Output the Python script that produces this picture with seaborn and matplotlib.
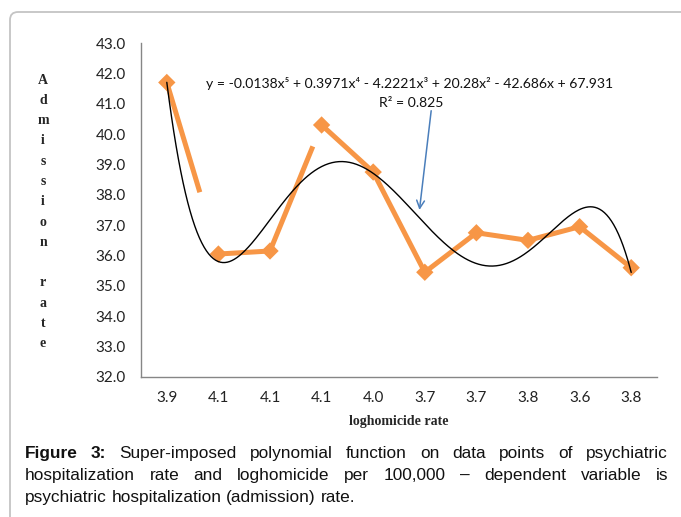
import numpy as np
import pandas as pd
import seaborn as sns
import matplotlib.pyplot as plt
from matplotlib.patches import FancyBboxPatch
from matplotlib.transforms import IdentityTransform

# ---- data ----
x_labels = ["3.9", "4.1", "4.1", "4.1", "4.0", "3.7", "3.7", "3.8", "3.6", "3.8"]
admission = [41.7, 36.05, 36.15, 40.3, 38.75, 35.45, 36.75, 36.5, 36.95, 35.6]
# part of each connecting segment that is actually drawn in the source picture
seg_drawn = [0.64, 1, 0.83, 1, 1, 1, 1, 1, 1]
y_ticks = [32, 33, 34, 35, 36, 37, 38, 39, 40, 41, 42, 43]

eq_text = "y = -0.0138x⁵ + 0.3971x⁴ - 4.2221x³ + 20.28x² - 42.686x + 67.931"
r2_text = "R² = 0.825"
ylabel_text = "Admission rate"
xlabel_text = "loghomicide rate"
caption_lines = [
    "Figure 3: Super-imposed polynomial function on data points of psychiatric",
    "hospitalization rate and loghomicide per 100,000 – dependent variable is",
    "psychiatric hospitalization (admission) rate.",
]

orange = "#F79646"
axis_grey = "#868686"

sns.set_theme(style="white")
plt.rcParams['font.family'] = ['Lato', 'DejaVu Sans']

W, H = 681, 517
fig = plt.figure(figsize=(W / 100, H / 100), dpi=100)
ax = fig.add_axes([141 / W, 1 - 377 / H, (657 - 141) / W, (377 - 43) / H])

pos = np.arange(1, len(admission) + 1)

# orange data line (drawn segment by segment, some are cut short like the source)
rows = []
for i, f in enumerate(seg_drawn):
    x0, x1 = pos[i], pos[i + 1]
    y0, y1 = admission[i], admission[i + 1]
    rows.append((i, x0, y0))
    rows.append((i, x0 + f * (x1 - x0), y0 + f * (y1 - y0)))
seg_df = pd.DataFrame(rows, columns=["seg", "x", "y"])
sns.lineplot(data=seg_df, x="x", y="y", units="seg", estimator=None, sort=False,
             color=orange, lw=3.6, solid_capstyle="butt", legend=False, ax=ax)
sns.scatterplot(x=pos, y=admission, marker="D", s=78, color=orange,
                edgecolor="none", zorder=4, ax=ax)

# 5th order polynomial trendline
coef = np.polyfit(pos, admission, 5)
xs = np.linspace(pos[0], pos[-1], 400)
sns.lineplot(x=xs, y=np.polyval(coef, xs), color="black", lw=1.0, zorder=5, ax=ax)

ax.set_xlim(0.5, len(admission) + 0.5)
ax.set_ylim(32, 43)
ax.set_yticks(y_ticks)
ax.set_yticklabels([f"{v:.1f}" for v in y_ticks])
ax.set_xticks(pos)
ax.set_xticklabels(x_labels)
ax.set_xticks(np.arange(0.5, len(admission) + 1), minor=True)
ax.tick_params(axis="x", which="major", length=0, pad=10, labelsize=11, colors="#222222")
ax.tick_params(axis="x", which="minor", length=5, width=1, color=axis_grey, direction="out")
ax.tick_params(axis="y", length=5, width=1, color=axis_grey, direction="out",
               pad=6, labelsize=11, labelcolor="#222222")
ax.set_xlabel("")
ax.set_ylabel("")
for side in ["top", "right"]:
    ax.spines[side].set_visible(False)
for side in ["left", "bottom"]:
    ax.spines[side].set_color(axis_grey)
    ax.spines[side].set_linewidth(1)
ax.grid(False)

# trendline equation + arrow
ax.text(5.71, 41.65, eq_text, ha="center", va="center", fontsize=10.1, color="#111111")
ax.text(5.73, 41.03, r2_text, ha="center", va="center", fontsize=10.1, color="#111111")
ax.annotate("", xy=(5.89, 37.41), xytext=(6.13, 40.86),
            arrowprops=dict(arrowstyle="->", color="#4A7EBB", lw=1.1,
                            mutation_scale=14))

# stacked vertical y label
letters = list(ylabel_text)
for k, ch in enumerate(letters):
    fig.text(43 / W, 1 - (80 + 20.3 * k) / H, ch, ha="center", va="center",
             fontsize=10, fontweight="bold", family="Liberation Serif")

fig.text(399 / W, 1 - 421 / H, xlabel_text, ha="center", va="center",
         fontsize=10, fontweight="bold", family="Liberation Serif")

# outer frame (cut off at right and bottom like the source)
frame = FancyBboxPatch((10, -40), W + 40, H - 12 + 40,
                       boxstyle="round,pad=0,rounding_size=8",
                       transform=IdentityTransform(), facecolor="none",
                       edgecolor="#C4C4C4", lw=1.3, clip_on=False)
fig.patches.append(frame)

# justified caption
fig.canvas.draw()
renderer = fig.canvas.get_renderer()
cap_base = [458, 480, 502]
left, right = 25, 668
cap_size = 12.4
for li, line in enumerate(caption_lines):
    words = line.split(" ")
    arts = []
    for wi, w in enumerate(words):
        bold = li == 0 and wi < 2
        arts.append(fig.text(0, H - cap_base[li], w, transform=IdentityTransform(),
                             fontsize=cap_size, family="Liberation Sans",
                             fontweight="bold" if bold else "normal",
                             va="baseline", ha="left", color="#111111"))
    widths = [a.get_window_extent(renderer).width for a in arts]
    if li < len(caption_lines) - 1:
        gap = (right - left - sum(widths)) / (len(words) - 1)
    else:
        gap = cap_size * 100 / 72 * 0.278
    x = left
    for a, wd in zip(arts, widths):
        a.set_x(x)
        x += wd + gap

fig.savefig("out.png", dpi=100)
